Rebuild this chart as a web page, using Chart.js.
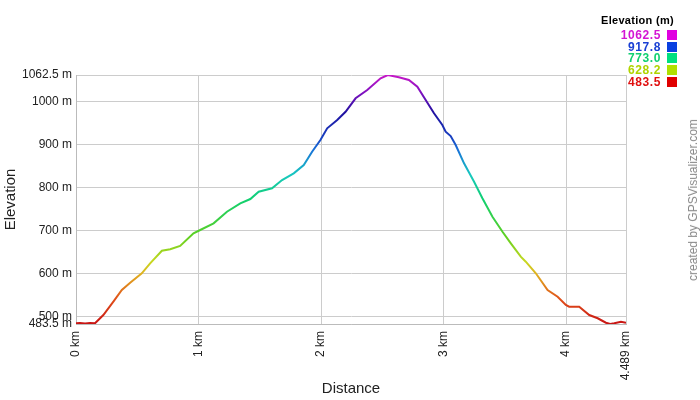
<!DOCTYPE html>
<html>
<head>
<meta charset="utf-8">
<script src="https://cdn.jsdelivr.net/npm/chart.js@4/dist/chart.umd.min.js"></script>
<style>
  html, body { margin: 0; padding: 0; background: #fff; }
  #wrap { position: relative; width: 700px; height: 400px; font-family: "Liberation Sans", Arial, sans-serif; }
  #c { position: absolute; left: 0; top: 0; }
  .lg-title { position: absolute; right: 26px; top: 14px; font-size: 11px; font-weight: bold; color: #000; letter-spacing: 0.3px; }
  .lg-row { position: absolute; right: 39px; font-size: 12px; font-weight: bold; letter-spacing: 0.6px; line-height: 12px; }
  .lg-box { position: absolute; left: 667px; width: 10px; height: 10px; }
  .credit { position: absolute; left: 693px; top: 200px; transform: translate(-50%, -50%) rotate(-90deg); font-size: 12px; color: #8a8a8a; white-space: nowrap; }
</style>
</head>
<body>
<div id="wrap">
  <canvas id="c" width="700" height="400"></canvas>
  <div id="legend"></div>
  <div class="credit">created by GPSVisualizer.com</div>
</div>
<script>
// ---- data ----
const distanceKm = [0, 0.033, 0.074, 0.114, 0.155, 0.223, 0.305, 0.374, 0.442, 0.537, 0.605, 0.701, 0.769, 0.850, 0.959,
  1.014, 1.123, 1.232, 1.341, 1.423, 1.491, 1.600, 1.682, 1.777, 1.859, 1.927, 1.995, 2.050, 2.132, 2.200, 2.282, 2.377,
  2.486, 2.545, 2.635, 2.717, 2.786, 2.854, 2.922, 2.990, 3.017, 3.058, 3.099, 3.167, 3.249, 3.317, 3.399, 3.481, 3.549,
  3.630, 3.671, 3.753, 3.849, 3.931, 3.998, 4.025, 4.107, 4.189, 4.258, 4.325, 4.360, 4.393, 4.448, 4.489];
const elevationM = [485.1, 485.8, 484.7, 485.8, 485.1, 504.4, 535.4, 562.6, 579.5, 601.4, 624.6, 653.9, 657.2, 664.9, 694.4,
  702.1, 717.6, 744.6, 764.1, 774.1, 791.1, 799.0, 818.3, 833.9, 853.2, 884.1, 911.3, 938.5, 957.8, 977.1, 1008.3, 1027.6,
  1054.8, 1062.5, 1057.1, 1050.8, 1035.3, 1004.3, 973.4, 946.2, 930.6, 920.6, 899.7, 857.1, 814.4, 775.8, 733.0, 698.1, 671.1,
  640.0, 628.4, 601.4, 562.6, 547.0, 527.7, 523.7, 523.7, 504.4, 496.8, 486.5, 483.5, 485.1, 488.8, 486.5];
const xTickValues = [0, 1, 2, 3, 4, 4.489];
const xTickLabels = ['0 km', '1 km', '2 km', '3 km', '4 km', '4.489 km'];
const yTickValues = [483.5, 500, 600, 700, 800, 900, 1000, 1062.5];
const yTickLabels = ['483.5 m', '500 m', '600 m', '700 m', '800 m', '900 m', '1000 m', '1062.5 m'];
const legendValues = ['1062.5', '917.8', '773.0', '628.2', '483.5'];
const legendTextColors = ['#d414d4', '#1a40d4', '#10d070', '#b0d400', '#e01010'];
const legendBoxColors = ['#e000e0', '#0a40e0', '#00e080', '#b0e000', '#e00000'];
const xTitle = 'Distance';
const yTitle = 'Elevation';
const legendTitle = 'Elevation (m)';

// ---- legend (HTML text) ----
const legend = document.getElementById('legend');
const t = document.createElement('div');
t.className = 'lg-title'; t.textContent = legendTitle; legend.appendChild(t);
legendValues.forEach((v, i) => {
  const r = document.createElement('div');
  r.className = 'lg-row'; r.textContent = v; r.style.color = legendTextColors[i];
  r.style.top = (29 + i * 11.7) + 'px';
  legend.appendChild(r);
  const b = document.createElement('div');
  b.className = 'lg-box'; b.style.background = legendBoxColors[i];
  b.style.top = (30 + i * 11.7) + 'px';
  legend.appendChild(b);
});

// ---- chart ----
const gradStops = [
  [0, '#c81414'], [0.1, '#e0501a'], [0.2, '#e0b020'], [0.25, '#c8d820'], [0.35, '#60d020'],
  [0.5, '#10d070'], [0.6, '#18c8c0'], [0.7, '#1870d8'], [0.75, '#1840c0'], [0.85, '#2010a0'],
  [0.93, '#8010c0'], [1, '#c818c8']
];
function lineGradient(context) {
  const chart = context.chart;
  const { ctx, chartArea, scales } = chart;
  if (!chartArea) return '#c81414';
  const y0 = scales.y.getPixelForValue(yTickValues[0]);
  const y1 = scales.y.getPixelForValue(yTickValues[yTickValues.length - 1]);
  const g = ctx.createLinearGradient(0, y0, 0, y1);
  gradStops.forEach(s => g.addColorStop(s[0], s[1]));
  return g;
}

const font = { family: '"Liberation Sans", Arial, sans-serif', size: 12 };
new Chart(document.getElementById('c'), {
  type: 'line',
  data: {
    datasets: [{
      data: distanceKm.map((d, i) => ({ x: d, y: elevationM[i] })),
      borderColor: lineGradient,
      borderWidth: 2,
      pointRadius: 0,
      tension: 0,
      fill: false
    }]
  },
  options: {
    responsive: false,
    animation: false,
    layout: { padding: { top: 75, right: 74, left: 0, bottom: 0 } },
    plugins: { legend: { display: false }, tooltip: { enabled: false } },
    scales: {
      x: {
        type: 'linear',
        min: xTickValues[0],
        max: xTickValues[xTickValues.length - 1],
        afterBuildTicks: axis => { axis.ticks = xTickValues.map(v => ({ value: v })); },
        afterFit: axis => { axis.height = 76; },
        ticks: {
          autoSkip: false,
          maxRotation: 90, minRotation: 90,
          padding: 7,
          color: '#222',
          font: font,
          callback: (v) => { const i = xTickValues.indexOf(v); return i >= 0 ? xTickLabels[i] : ''; }
        },
        grid: { color: '#cccccc', lineWidth: 1, drawTicks: false },
        border: { color: '#bbbbbb' },
        title: { display: true, text: xTitle, color: '#222', font: { family: font.family, size: 15 }, padding: { top: 0, bottom: 2 } }
      },
      y: {
        type: 'linear',
        min: yTickValues[0],
        max: yTickValues[yTickValues.length - 1],
        afterBuildTicks: axis => { axis.ticks = yTickValues.map(v => ({ value: v })); },
        afterFit: axis => { axis.width = 76; },
        ticks: {
          autoSkip: false,
          padding: 4,
          color: '#222',
          font: font,
          callback: (v) => { const i = yTickValues.indexOf(v); return i >= 0 ? yTickLabels[i] : ''; }
        },
        grid: { color: '#cccccc', lineWidth: 1, drawTicks: false },
        border: { color: '#bbbbbb' },
        title: { display: true, text: yTitle, color: '#222', font: { family: font.family, size: 15 }, padding: { top: 2, bottom: 0 } }
      }
    }
  }
});
</script>
</body>
</html>
